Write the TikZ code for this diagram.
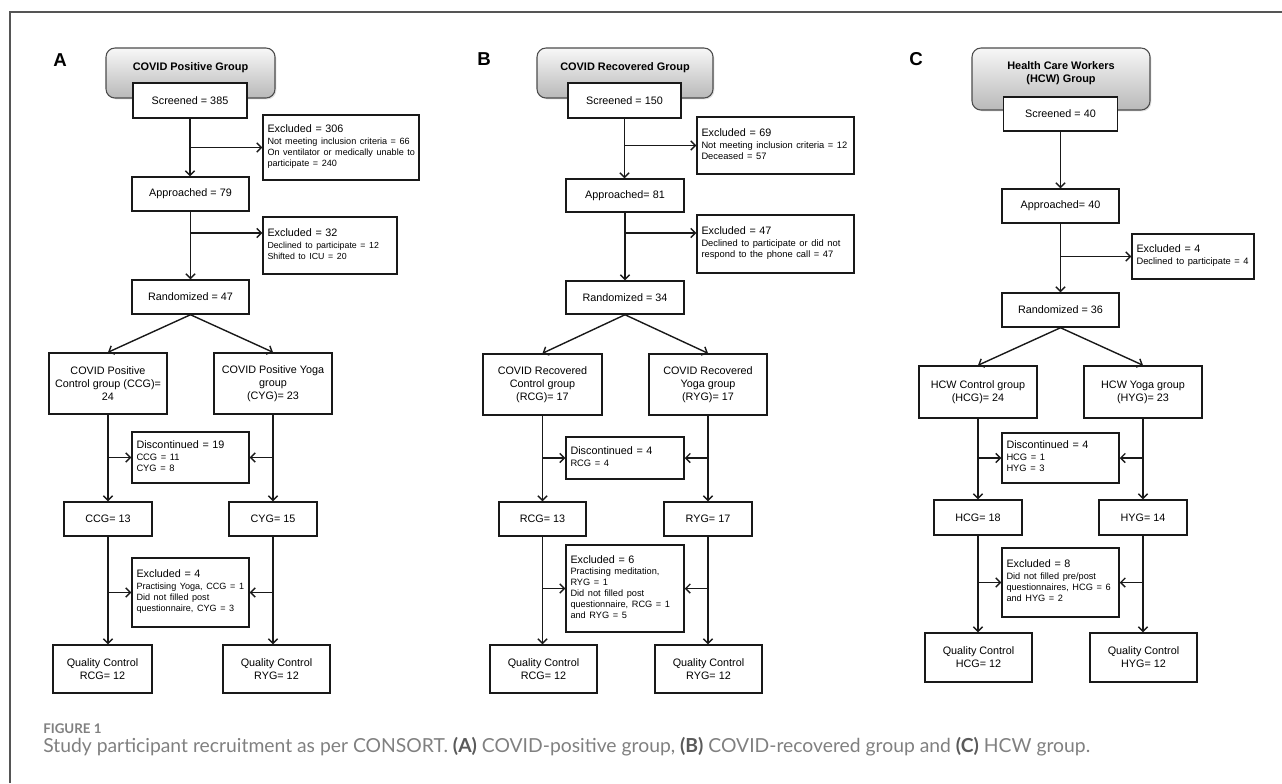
\documentclass[tikz,border=0pt]{standalone}
\usepackage{fontspec}
\setmainfont{Liberation Sans}
\newfontfamily\capfont{Lato}
\usetikzlibrary{arrows.meta,shadows}
\newdimen\px \px=0.75pt
\newcommand\exctext[3][7]{#2\par\vspace{0.6pt}{\fontsize{#1}{8.2}\selectfont\begin{tabular}[t]{@{}l@{}}#3\end{tabular}\par}}
\definecolor{framegray}{HTML}{555555}
\definecolor{capgray}{HTML}{808080}
\definecolor{capdark}{HTML}{5A5A5A}
\begin{document}
\begin{tikzpicture}[x=0.75pt,y=-0.75pt,
  box/.style={draw=black!90, line width=1.1pt, fill=white, inner sep=0pt, align=center,
    font=\fontsize{8.1}{9.8}\selectfont},
  exbox/.style={draw=black!90, line width=1.1pt, fill=white, inner xsep=4.5\px, inner ysep=0pt,
    align=left, font=\fontsize{8.1}{9.8}\selectfont},
  titlebox/.style={draw=black!70, line width=0.8pt, rounded corners=9\px,
    top color=gray!6, bottom color=gray!55, inner sep=0pt,
    drop shadow={opacity=0.25, shadow xshift=1pt, shadow yshift=-1pt}},
  titletext/.style={inner sep=0pt, align=center, font=\bfseries\fontsize{8.2}{9.8}\selectfont},
  panellabel/.style={inner sep=0pt, font=\bfseries\fontsize{14}{16}\selectfont},
  arr/.style={draw=black!90, line width=1.05pt, -{Straight Barb[length=3.4pt,width=6.8pt]}},
]
\useasboundingbox (0,0) rectangle (1282,783);
\draw[draw=framegray, line width=1.3\px] (10,783) -- (10,12) -- (1282,12);

% ================= Panel A =================
\node[panellabel] (labA) at (60,60) {A};
\node[titlebox, minimum width=169\px, minimum height=50\px] (tA) at (190.5,73) {};
\node[titletext] (tAt) at (190.5,68) {COVID Positive Group};
\node[box, minimum width=114\px, minimum height=35\px] (scrA) at (190,100.5) {Screened = 385};
\node[exbox, text width=147\px, minimum height=65\px] (ex1A) at (341,147.5)
  {\exctext[6.8]{Excluded = 306}{Not meeting inclusion criteria = 66\\On ventilator or medically unable to\\participate = 240}};
\node[box, minimum width=117\px, minimum height=34\px] (appA) at (190.5,194) {Approached = 79};
\node[exbox, text width=125\px, minimum height=57\px] (ex2A) at (330,245.5)
  {\exctext[6.6]{Excluded = 32}{Declined to participate = 12\\Shifted to ICU = 20}};
\node[box, minimum width=117\px, minimum height=34\px] (randA) at (190.5,297) {Randomized = 47};
\node[box, minimum width=118\px, minimum height=61\px] (ccgA) at (108,383.5) {COVID Positive\\Control group (CCG)=\\24};
\node[box, minimum width=118\px, minimum height=61\px] (cygA) at (273,383.5) {COVID Positive Yoga\\group\\(CYG)= 23};
\node[exbox, text width=108\px, minimum height=51\px] (discA) at (190.5,457.5)
  {\exctext{Discontinued = 19}{CCG = 11\\CYG = 8}};
\node[box, minimum width=88\px, minimum height=34\px] (ccg2A) at (108,519) {CCG= 13};
\node[box, minimum width=88\px, minimum height=34\px] (cyg2A) at (273,519) {CYG= 15};
\node[exbox, text width=108\px, minimum height=69\px] (ex3A) at (190.5,592.5)
  {\exctext[6.8]{Excluded = 4}{Practising Yoga, CCG = 1\\Did not filled post\\questionnaire, CYG = 3}};
\node[box, minimum width=99\px, minimum height=48\px] (qcLA) at (102.5,669) {Quality Control\\RCG= 12};
\node[box, minimum width=107\px, minimum height=48\px] (qcRA) at (276.5,669) {Quality Control\\RYG= 12};
\coordinate (bA) at (190,233);

\draw[arr] (scrA.south) -- (scrA.south |- appA.north);
\draw[arr] (scrA.south |- ex1A.west) -- (ex1A.west);
\draw[arr] (appA.south) -- (appA.south |- randA.north);
\draw[arr] (bA) -- (bA -| ex2A.west);
\draw[arr] (randA.south) -- (ccgA.north);
\draw[arr] (randA.south) -- (cygA.north);
\draw[arr] (ccgA.south) -- (ccg2A.north);
\draw[arr] (cygA.south) -- (cyg2A.north);
\draw[arr] (ccgA.south |- discA.west) -- (discA.west);
\draw[arr] (cygA.south |- discA.east) -- (discA.east);
\draw[arr] (ccg2A.south) -- (ccg2A.south |- qcLA.north);
\draw[arr] (cyg2A.south) -- (cyg2A.south |- qcRA.north);
\draw[arr] (ccg2A.south |- ex3A.west) -- (ex3A.west);
\draw[arr] (cyg2A.south |- ex3A.east) -- (ex3A.east);

% ================= Panel B =================
\node[panellabel] (labB) at (484,59) {B};
\node[titlebox, minimum width=176\px, minimum height=50\px] (tB) at (625,73) {};
\node[titletext] (tBt) at (625,68) {COVID Recovered Group};
\node[box, minimum width=113\px, minimum height=35\px] (scrB) at (624.5,100.5) {Screened = 150};
\node[exbox, text width=148\px, minimum height=57\px] (ex1B) at (775.5,145.5)
  {\exctext{Excluded = 69}{Not meeting inclusion criteria = 12\\Deceased = 57}};
\node[box, minimum width=118\px, minimum height=33\px] (appB) at (625,195.5) {Approached= 81};
\node[exbox, text width=148\px, minimum height=58\px] (ex2B) at (775.5,244)
  {\exctext{Excluded = 47}{Declined to participate or did not\\respond to the phone call = 47}};
\node[box, minimum width=118\px, minimum height=33\px] (randB) at (625,297.5) {Randomized = 34};
\node[box, minimum width=119\px, minimum height=61\px] (rcgB) at (542.5,384.5) {COVID Recovered\\Control group\\(RCG)= 17};
\node[box, minimum width=118\px, minimum height=61\px] (rygB) at (708,384.5) {COVID Recovered\\Yoga group\\(RYG)= 17};
\node[exbox, text width=109\px, minimum height=42\px] (discB) at (625,458)
  {\exctext{Discontinued = 4}{RCG = 4}};
\node[box, minimum width=87\px, minimum height=34\px] (rcg2B) at (542.5,519) {RCG= 13};
\node[box, minimum width=88\px, minimum height=34\px] (ryg2B) at (708,519) {RYG= 17};
\node[exbox, text width=109\px, minimum height=87\px] (ex3B) at (625,588.5)
  {\exctext[6.9]{Excluded = 6}{Practising meditation,\\RYG = 1\\Did not filled post\\questionnaire, RCG = 1\\and RYG = 5}};
\node[box, minimum width=107\px, minimum height=48\px] (qcLB) at (543.5,669) {Quality Control\\RCG= 12};
\node[box, minimum width=107\px, minimum height=48\px] (qcRB) at (708.5,669) {Quality Control\\RYG= 12};
\coordinate (bB) at (625,233);

\draw[arr] (scrB.south) -- (scrB.south |- appB.north);
\draw[arr] (scrB.south |- ex1B.west) -- (ex1B.west);
\draw[arr] (appB.south) -- (appB.south |- randB.north);
\draw[arr] (bB) -- (bB -| ex2B.west);
\draw[arr] (randB.south) -- (rcgB.north);
\draw[arr] (randB.south) -- (rygB.north);
\draw[arr] (rcgB.south) -- (rcg2B.north);
\draw[arr] (rygB.south) -- (ryg2B.north);
\draw[arr] (rcgB.south |- discB.west) -- (discB.west);
\draw[arr] (rygB.south |- discB.east) -- (discB.east);
\draw[arr] (rcg2B.south) -- (rcg2B.south |- qcLB.north);
\draw[arr] (ryg2B.south) -- (ryg2B.south |- qcRB.north);
\draw[arr] (rcg2B.south |- ex3B.west) -- (ex3B.west);
\draw[arr] (ryg2B.south |- ex3B.east) -- (ex3B.east);

% ================= Panel C =================
\node[panellabel] (labC) at (916,59) {C};
\node[titlebox, minimum width=178\px, minimum height=62\px] (tC) at (1061,79) {};
\node[titletext] (tCt) at (1061,73.5) {Health Care Workers\\(HCW) Group};
\node[box, minimum width=114\px, minimum height=34\px] (scrC) at (1060.5,114) {Screened = 40};
\node[box, minimum width=117\px, minimum height=34\px] (appC) at (1060.5,206) {Approached= 40};
\node[exbox, text width=113\px, minimum height=45\px] (ex1C) at (1193,256.5)
  {\exctext{Excluded = 4}{Declined to participate = 4}};
\node[box, minimum width=117\px, minimum height=34\px] (randC) at (1060.5,310) {Randomized = 36};
\node[box, minimum width=118\px, minimum height=52\px] (hcgC) at (978,392) {HCW Control group\\(HCG)= 24};
\node[box, minimum width=118\px, minimum height=52\px] (hygC) at (1143,392) {HCW Yoga group\\(HYG)= 23};
\node[exbox, text width=108\px, minimum height=50\px] (discC) at (1060.5,458)
  {\exctext{Discontinued = 4}{HCG = 1\\HYG = 3}};
\node[box, minimum width=88\px, minimum height=35\px] (hcg2C) at (978,517.5) {HCG= 18};
\node[box, minimum width=88\px, minimum height=35\px] (hyg2C) at (1143,517.5) {HYG= 14};
\node[exbox, text width=108\px, minimum height=69\px] (ex3C) at (1060.5,582.5)
  {\exctext[6.9]{Excluded = 8}{Did not filled pre/post\\questionnaires, HCG = 6\\and HYG = 2}};
\node[box, minimum width=107\px, minimum height=49\px] (qcLC) at (978.5,657.5) {Quality Control\\HCG= 12};
\node[box, minimum width=107\px, minimum height=49\px] (qcRC) at (1143.5,657.5) {Quality Control\\HYG= 12};

\draw[arr] (scrC.south) -- (scrC.south |- appC.north);
\draw[arr] (appC.south) -- (appC.south |- randC.north);
\draw[arr] (appC.south |- ex1C.west) -- (ex1C.west);
\draw[arr] (randC.south) -- (hcgC.north);
\draw[arr] (randC.south) -- (hygC.north);
\draw[arr] (hcgC.south) -- (hcg2C.north);
\draw[arr] (hygC.south) -- (hyg2C.north);
\draw[arr] (hcgC.south |- discC.west) -- (discC.west);
\draw[arr] (hygC.south |- discC.east) -- (discC.east);
\draw[arr] (hcg2C.south) -- (hcg2C.south |- qcLC.north);
\draw[arr] (hyg2C.south) -- (hyg2C.south |- qcRC.north);
\draw[arr] (hcg2C.south |- ex3C.west) -- (ex3C.west);
\draw[arr] (hyg2C.south |- ex3C.east) -- (ex3C.east);

% ================= Caption =================
\node[anchor=base west, inner sep=0pt, text=capgray, font=\capfont\bfseries\fontsize{10}{12}\selectfont] (figlab) at (43,733) {FIGURE 1};
\node[anchor=base west, inner sep=0pt, text=capgray, font=\capfont\fontsize{13.5}{16}\selectfont] (cap) at (43,752)
  {\resizebox{1047\px}{!}{Study participant recruitment as per CONSORT. {\color{capdark}\bfseries(A)} COVID-positive group, {\color{capdark}\bfseries(B)} COVID-recovered group and {\color{capdark}\bfseries(C)} HCW group.}};
\end{tikzpicture}
\end{document}
